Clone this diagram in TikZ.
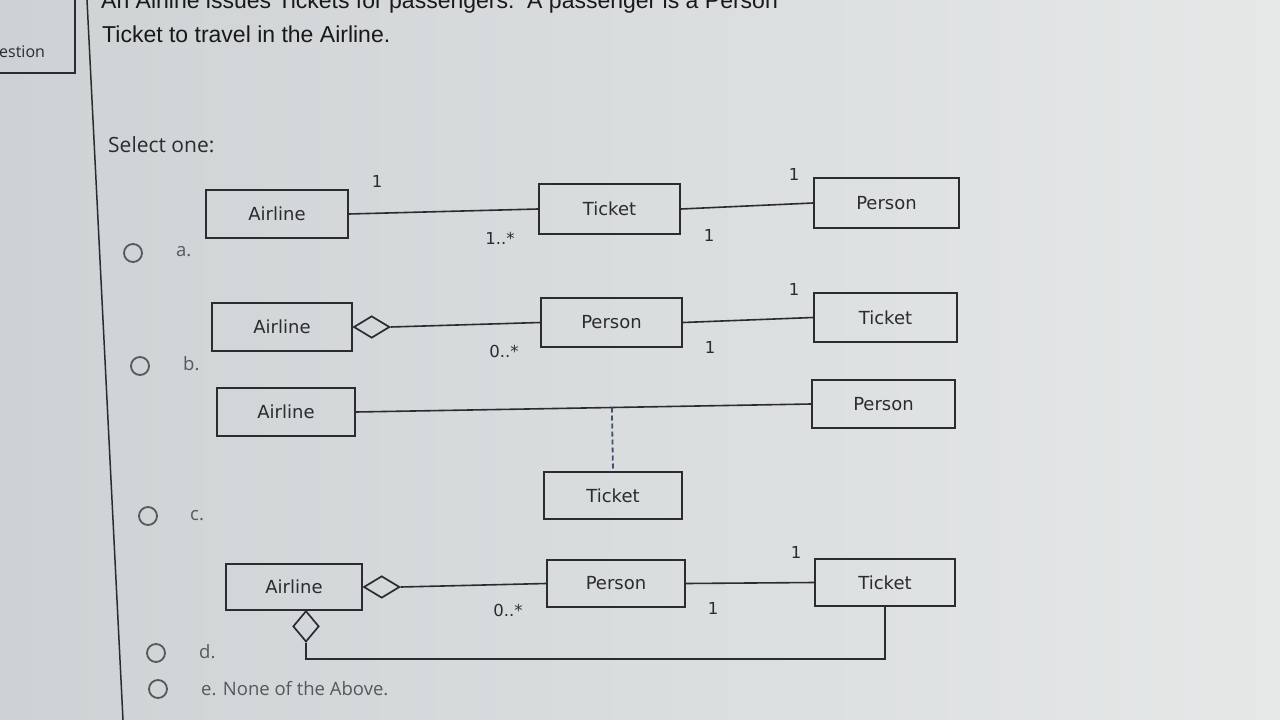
\documentclass[tikz,border=0pt]{standalone}
\usepackage{fontspec}
\setmainfont{Liberation Sans}
\newfontfamily\umlf{DejaVu Sans}
\newfontfamily\uif{Open Sans}
\usetikzlibrary{shapes.geometric,calc}
\definecolor{bgL}{HTML}{CDD2D4}
\definecolor{bgR}{HTML}{E6E8E8}
\definecolor{ink}{HTML}{2A2C2F}
\definecolor{soft}{HTML}{55595C}
\definecolor{dashc}{HTML}{3E5278}
\begin{document}
\begin{tikzpicture}[x=1pt,y=-1pt,
  cls/.style={draw=ink, line width=1.7pt, inner sep=0pt, font=\umlf\fontsize{18}{21}\selectfont, text=ink},
  diam/.style={draw=ink, line width=1.7pt, diamond, inner sep=0pt, minimum width=36pt, minimum height=22pt},
  conn/.style={draw=ink, line width=1.6pt},
  mult/.style={font=\umlf\fontsize{16.5}{19}\selectfont, text=ink, inner sep=0pt},
  radio/.style={draw=soft, line width=1.8pt, circle, minimum size=18pt, inner sep=0pt},
  opt/.style={font=\uif\fontsize{18.5}{22}\selectfont, text=soft, anchor=west, inner sep=0pt},
  ttl/.style={font=\fontsize{23}{27}\selectfont, text=black!90, anchor=base west, inner sep=0pt}]
\useasboundingbox (0,0) rectangle (1280,720);
\clip (0,0) rectangle (1280,720);
\shade[left color=bgL, right color=bgR] (0,0) rectangle (1280,720);
% left panel
\draw[ink, line width=1.5pt] (0,73) -- (75,73) -- (75,0);
\draw[ink, line width=1.5pt] (87,0) -- (123,720);
\node[font=\uif\fontsize{16}{19}\selectfont, text=ink, anchor=base west, inner sep=0pt] (qlab) at (-1,57) {estion};
% title
\node[ttl] (t1) at (101,9) {An Airline issues Tickets for passengers.\ \ A passenger is a Person};
\node[ttl] (t2) at (102,42) {Ticket to travel in the Airline.};
\node[font=\uif\fontsize{21}{25}\selectfont, text=ink, anchor=west, inner sep=0pt] (sel) at (108,145) {Select one:};

% ---- option a
\node[cls, minimum width=142pt, minimum height=48pt] (a1) at (277,214) {Airline};
\node[cls, minimum width=141pt, minimum height=50pt] (a2) at (609.5,209) {Ticket};
\node[cls, minimum width=145pt, minimum height=50pt] (a3) at (886.5,203) {Person};
\draw[conn] (a1.east) -- (a2.west);
\draw[conn] (a2.east) -- (a3.west);
\node[mult] (a1m) at (377,181) {1};
\node[mult] (a2m) at (500,238) {1..*};
\node[mult] (a3m) at (794,174) {1};
\node[mult] (a4m) at (709,235) {1};
\node[radio] (ra) at (133,253) {};
\node[opt] (la) at (176,252) {a.};

% ---- option b
\node[cls, minimum width=140pt, minimum height=48pt] (b1) at (282,327) {Airline};
\node[diam, anchor=west] (b1d) at (b1.east) {};
\node[cls, minimum width=141pt, minimum height=49pt] (b2) at (611.5,322.5) {Person};
\node[cls, minimum width=143pt, minimum height=49pt] (b3) at (885.5,317.5) {Ticket};
\draw[conn] (b1d.east) -- (b2.west);
\draw[conn] (b2.east) -- (b3.west);
\node[mult] (b1m) at (794,289) {1};
\node[mult] (b2m) at (504,351) {0..*};
\node[mult] (b3m) at (710,347) {1};
\node[radio] (rb) at (140,366) {};
\node[opt] (lb) at (183,364) {b.};

% ---- option c
\node[cls, minimum width=138pt, minimum height=48pt] (c1) at (286,412) {Airline};
\node[cls, minimum width=143pt, minimum height=48pt] (c2) at (883.5,404) {Person};
\node[cls, minimum width=138pt, minimum height=47pt] (c3) at (613,495.5) {Ticket};
\draw[conn] (c1.east) -- (c2.west);
\coordinate (cmid) at ($(c1.east)!(c3.north)!(c2.west)$);
\draw[dashc, line width=1.8pt, dash pattern=on 5pt off 3pt] (cmid) -- (c3.north);
\node[radio] (rc) at (148,516) {};
\node[opt] (lc) at (190,516) {c.};

% ---- option d
\node[cls, minimum width=136pt, minimum height=46pt] (d1) at (294,587) {Airline};
\node[diam, anchor=west] (d1d) at (d1.east) {};
\node[cls, minimum width=138pt, minimum height=47pt] (d2) at (616,583.5) {Person};
\node[cls, minimum width=140pt, minimum height=47pt] (d3) at (885,582.5) {Ticket};
\draw[conn] (d1d.east) -- (d2.west);
\draw[conn] (d2.east) -- (d3.west);
\node[diam, minimum width=26pt, minimum height=31pt, anchor=north] (d1b) at (306,610) {};
\draw[conn] (d1b.south) -- ++(0,16) -| (d3.south);
\node[mult] (d1m) at (796,552) {1};
\node[mult] (d2m) at (508,610) {0..*};
\node[mult] (d3m) at (713,608) {1};
\node[radio] (rd) at (156,653) {};
\node[opt] (ld) at (199,652) {d.};

% ---- option e
\node[radio] (re) at (158,689) {};
\node[opt] (le) at (201,689) {e. None of the Above.};
\end{tikzpicture}
\end{document}
